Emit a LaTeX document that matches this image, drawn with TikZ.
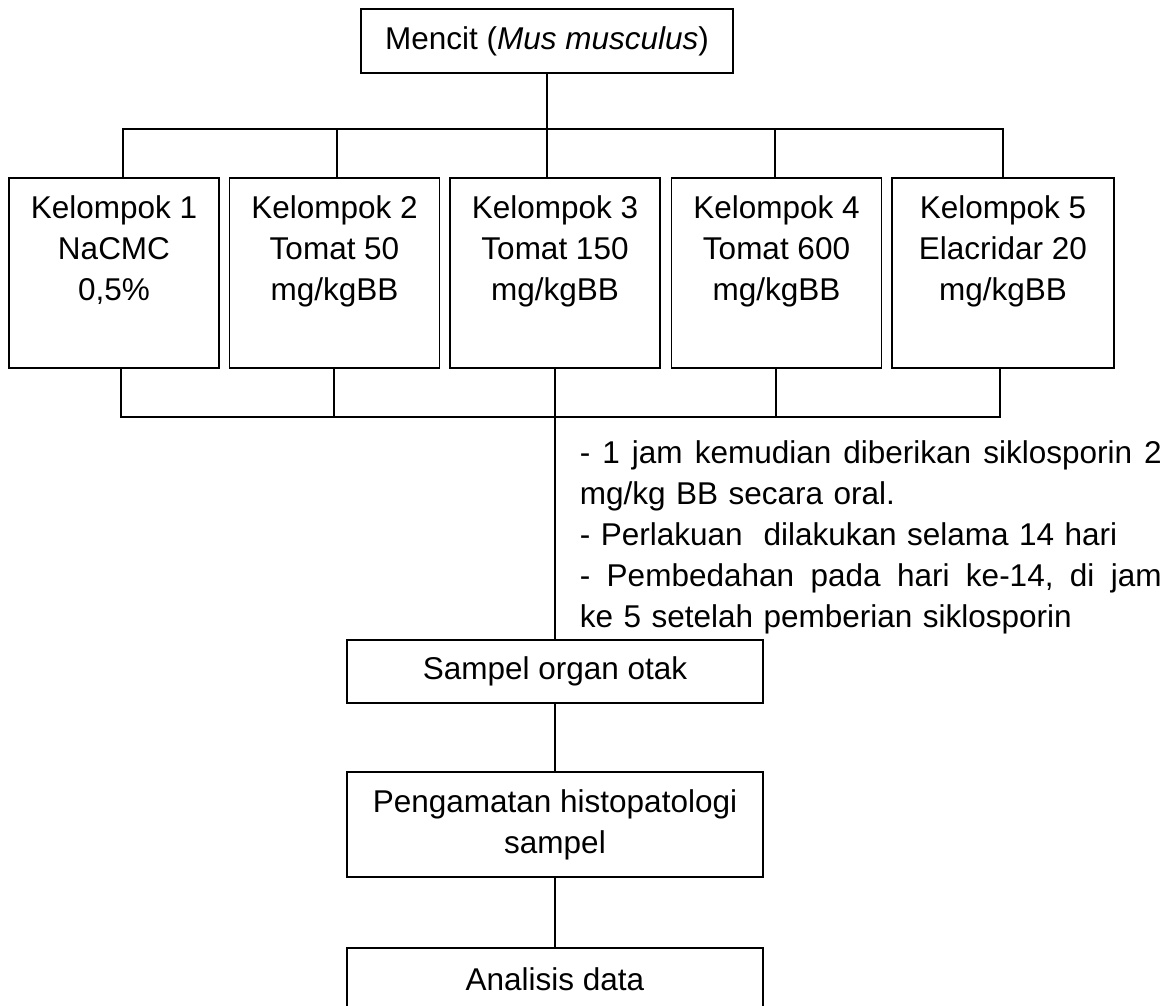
\documentclass[tikz,border=0pt]{standalone}
\usepackage{fontspec}
\setmainfont{Liberation Sans}
\usepackage{tikz}
\usetikzlibrary{positioning}
\tikzset{
box/.style = {rectangle, draw=black, minimum width = #1},
box/.default = 416pt, % width of the lower boxes
}

\begin{document}
\begin{tikzpicture}[x=1pt, y=-1pt, line width=1.6pt, font=\fontsize{31.5}{41}\selectfont]
    \useasboundingbox (0,0) rectangle (1176,1006);

    \node[box=372pt, minimum height=64pt] (mencit) at (547,41) {Mencit (\textit{Mus musculus})};

    % group boxes, text sits at the top
    \node[box=210pt, minimum height=190pt] (kel1) at (114,273) {};
    \node[box=210pt, minimum height=190pt] (kel2) at (334.5,273) {};
    \node[box=210pt, minimum height=190pt] (kel3) at (555,273) {};
    \node[box=210pt, minimum height=190pt] (kel4) at (776.5,273) {};
    \node[box=222pt, minimum height=190pt] (kel5) at (1003,273) {};

    \node[below=18pt of kel1.north, inner sep=0pt, align=center] (txt1) {Kelompok 1\\NaCMC\\0,5\%};
    \node[below=18pt of kel2.north, inner sep=0pt, align=center] (txt2) {Kelompok 2\\Tomat 50\\mg/kgBB};
    \node[below=18pt of kel3.north, inner sep=0pt, align=center] (txt3) {Kelompok 3\\Tomat 150\\mg/kgBB};
    \node[below=18pt of kel4.north, inner sep=0pt, align=center] (txt4) {Kelompok 4\\Tomat 600\\mg/kgBB};
    \node[below=18pt of kel5.north, inner sep=0pt, align=center] (txt5) {Kelompok 5\\Elacridar 20\\mg/kgBB};

    \node[anchor=north west, inner sep=0pt, text width=582pt, align=left] (note) at (579,440)
        {\leavevmode\hbox to 582pt{-\hfill 1\hfill jam\hfill kemudian\hfill diberikan\hfill siklosporin\hfill 2}\\
         mg/kg BB secara oral.\\
         - Perlakuan~ dilakukan selama 14 hari\\
         \leavevmode\hbox to 582pt{-\hfill Pembedahan\hfill pada\hfill hari\hfill ke-14,\hfill di\hfill jam}\\
         ke 5 setelah pemberian siklosporin};

    \node[box, minimum height=63pt] (sampel) at (555,671.5) {Sampel organ otak};
    \node[box, minimum height=105pt, align=center] (amat) at (555,824.5) {Pengamatan histopatologi\\sampel};
    \node[box, minimum height=63pt] (analisis) at (555,979.5) {Analisis data};

    % upper branching
    \coordinate (t1) at (123,129);
    \coordinate (t2) at (337,129);
    \coordinate (t3) at (547,129);
    \coordinate (t4) at (775,129);
    \coordinate (t5) at (1003,129);
    \draw (mencit.south) -- (t3);
    \draw (t1 |- kel1.north) -- (t1) -- (t5) -- (t5 |- kel5.north);
    \draw (t2) -- (t2 |- kel2.north);
    \draw (t3) -- (t3 |- kel3.north);
    \draw (t4) -- (t4 |- kel4.north);

    % lower joining
    \coordinate (b1) at (121,417);
    \coordinate (b2) at (334,417);
    \coordinate (b4) at (776,417);
    \coordinate (b5) at (1000,417);
    \draw (b1 |- kel1.south) -- (b1) -- (b5) -- (b5 |- kel5.south);
    \draw (b2 |- kel2.south) -- (b2);
    \draw (b4 |- kel4.south) -- (b4);
    \draw (kel3.south) -- (kel3.south |- sampel.north);

    \draw (sampel.south) -- (amat.north);
    \draw (amat.south) -- (analisis.north);
\end{tikzpicture}
\end{document}
